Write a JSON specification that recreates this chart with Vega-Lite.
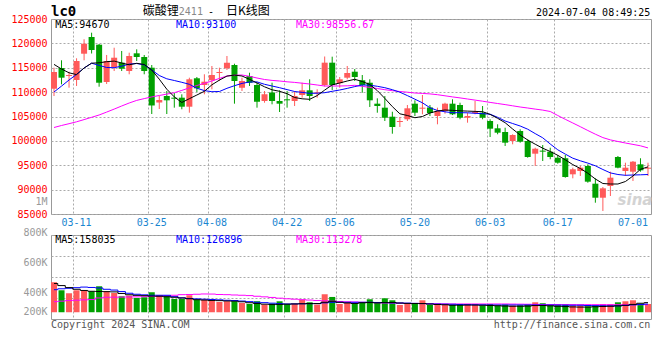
{
"$schema": "https://vega.github.io/schema/vega-lite/v6.json",
"background": "white",
"autosize": {"type": "pad"},
"padding": {"left": 10, "top": 4, "right": 0, "bottom": 0},
"bounds": "flush",
"spacing": 21,
"config": {
  "view": {"stroke": "#999", "strokeWidth": 1},
  "font": "DejaVu Sans Mono",
  "axis": {"labelFont": "DejaVu Sans Mono", "labelFontSize": 10, "ticks": false, "domain": false, "gridDash": [2, 2], "gridColor": "#aaa", "gridWidth": 1, "labelOverlap": false, "labelBound": false, "labelFlush": false},
  "text": {"font": "DejaVu Sans Mono", "fontSize": 10, "baseline": "middle"}
},
"datasets": {
"k": [
{"d":"03-06","o":110700,"c":114130,"h":115010,"l":109200,"v":605000,"m5":115687,"m10":110025,"m30":102743,"vm5":578000,"vm10":442000,"vm30":180000},
{"d":"03-07","o":114950,"c":112960,"h":116530,"l":111600,"v":429000,"m5":114743,"m10":111235,"m30":103154,"vm5":532000,"vm10":462000,"vm30":191000},
{"d":"03-08","o":113310,"c":113510,"h":114190,"l":110910,"v":364000,"m5":113964,"m10":112487,"m30":103523,"vm5":488000,"vm10":473000,"vm30":204000},
{"d":"03-11","o":112490,"c":116380,"h":116940,"l":111260,"v":429000,"m5":113594,"m10":113635,"m30":103913,"vm5":451000,"vm10":486000,"vm30":212000},
{"d":"03-12","o":117880,"c":119930,"h":120840,"l":116530,"v":423000,"m5":114948,"m10":114948,"m30":104364,"vm5":425000,"vm10":499000,"vm30":219000},
{"d":"03-13","o":121310,"c":118640,"h":122190,"l":117920,"v":407000,"m5":115933,"m10":115933,"m30":104836,"vm5":407000,"vm10":491000,"vm30":226000},
{"d":"03-14","o":119730,"c":111930,"h":119870,"l":111110,"v":517000,"m5":116015,"m10":115482,"m30":105308,"vm5":403000,"vm10":480000,"vm30":261000},
{"d":"03-15","o":112080,"c":116380,"h":117620,"l":111670,"v":407000,"m5":116241,"m10":115051,"m30":105903,"vm5":399000,"vm10":451000,"vm30":276000},
{"d":"03-18","o":115150,"c":117060,"h":119110,"l":114330,"v":370000,"m5":116364,"m10":115010,"m30":106518,"vm5":394000,"vm10":434000,"vm30":278000},
{"d":"03-19","o":116040,"c":114800,"h":118440,"l":114330,"v":298000,"m5":115974,"m10":115318,"m30":107154,"vm5":359000,"vm10":401000,"vm30":280000},
{"d":"03-20","o":114330,"c":117410,"h":118090,"l":113660,"v":313000,"m5":115605,"m10":115749,"m30":107769,"vm5":331000,"vm10":364000,"vm30":283000},
{"d":"03-21","o":117960,"c":117200,"h":118780,"l":116380,"v":261000,"m5":115913,"m10":115872,"m30":108302,"vm5":318000,"vm10":342000,"vm30":285000},
{"d":"03-22","o":117200,"c":114330,"h":117620,"l":113660,"v":276000,"m5":115667,"m10":115585,"m30":108672,"vm5":311000,"vm10":329000,"vm30":289000},
{"d":"03-25","o":115010,"c":107260,"h":115560,"l":105510,"v":386000,"m5":114538,"m10":114559,"m30":109020,"vm5":302000,"vm10":320000,"vm30":294000},
{"d":"03-26","o":107870,"c":108380,"h":109200,"l":106540,"v":320000,"m5":112651,"m10":113410,"m30":109308,"vm5":298000,"vm10":320000,"vm30":300000},
{"d":"03-27","o":109200,"c":108320,"h":110230,"l":105510,"v":313000,"m5":110600,"m10":112733,"m30":109595,"vm5":287000,"vm10":320000,"vm30":309000},
{"d":"03-28","o":108860,"c":108650,"h":109820,"l":106810,"v":239000,"m5":109020,"m10":112384,"m30":109882,"vm5":276000,"vm10":289000,"vm30":320000},
{"d":"03-29","o":108860,"c":107010,"h":109550,"l":106480,"v":239000,"m5":107872,"m10":112015,"m30":110354,"vm5":261000,"vm10":263000,"vm30":333000},
{"d":"04-01","o":107010,"c":112630,"h":112960,"l":105780,"v":320000,"m5":108651,"m10":111605,"m30":110867,"vm5":243000,"vm10":250000,"vm30":337000},
{"d":"04-02","o":112840,"c":110780,"h":113100,"l":110030,"v":226000,"m5":109410,"m10":110805,"m30":111359,"vm5":223000,"vm10":241000,"vm30":342000},
{"d":"04-03","o":111460,"c":112140,"h":113660,"l":109550,"v":226000,"m5":110169,"m10":110313,"m30":111810,"vm5":215000,"vm10":234000,"vm30":348000},
{"d":"04-08","o":112430,"c":113510,"h":115360,"l":110580,"v":204000,"m5":111502,"m10":110087,"m30":112282,"vm5":206000,"vm10":228000,"vm30":346000},
{"d":"04-09","o":113920,"c":114130,"h":115010,"l":112280,"v":173000,"m5":112466,"m10":110128,"m30":112815,"vm5":202000,"vm10":219000,"vm30":337000},
{"d":"04-10","o":114890,"c":116040,"h":117410,"l":114540,"v":188000,"m5":113287,"m10":110784,"m30":113307,"vm5":195000,"vm10":210000,"vm30":333000},
{"d":"04-11","o":115560,"c":112280,"h":115830,"l":107630,"v":188000,"m5":113492,"m10":111317,"m30":113471,"vm5":191000,"vm10":204000,"vm30":326000},
{"d":"04-12","o":110910,"c":112280,"h":112960,"l":110230,"v":151000,"m5":113307,"m10":111789,"m30":113512,"vm5":177000,"vm10":193000,"vm30":320000},
{"d":"04-15","o":113310,"c":111930,"h":113980,"l":111260,"v":129000,"m5":112630,"m10":112077,"m30":113246,"vm5":156000,"vm10":180000,"vm30":313000},
{"d":"04-16","o":111460,"c":108040,"h":111930,"l":106810,"v":188000,"m5":111872,"m10":112097,"m30":112897,"vm5":140000,"vm10":166000,"vm30":298000},
{"d":"04-17","o":108180,"c":109550,"h":110230,"l":107830,"v":116000,"m5":111092,"m10":111605,"m30":112590,"vm5":125000,"vm10":158000,"vm30":285000},
{"d":"04-18","o":109920,"c":108180,"h":111930,"l":107500,"v":138000,"m5":110477,"m10":111256,"m30":112405,"vm5":116000,"vm10":147000,"vm30":272000},
{"d":"04-19","o":108180,"c":107630,"h":110370,"l":105920,"v":188000,"m5":110169,"m10":110908,"m30":112282,"vm5":120000,"vm10":136000,"vm30":256000},
{"d":"04-22","o":108530,"c":108320,"h":110230,"l":106810,"v":129000,"m5":109677,"m10":110518,"m30":112118,"vm5":125000,"vm10":129000,"vm30":243000},
{"d":"04-23","o":108180,"c":109200,"h":110230,"l":107150,"v":138000,"m5":108897,"m10":110128,"m30":111995,"vm5":129000,"vm10":131000,"vm30":234000},
{"d":"04-24","o":109410,"c":110370,"h":111930,"l":108860,"v":226000,"m5":108631,"m10":109943,"m30":111831,"vm5":134000,"vm10":134000,"vm30":223000},
{"d":"04-25","o":110370,"c":109200,"h":112630,"l":108180,"v":166000,"m5":108528,"m10":109759,"m30":111666,"vm5":138000,"vm10":136000,"vm30":215000},
{"d":"04-26","o":109750,"c":109960,"h":110580,"l":108860,"v":116000,"m5":109287,"m10":109779,"m30":111461,"vm5":138000,"vm10":138000,"vm30":206000},
{"d":"04-29","o":111460,"c":116040,"h":117310,"l":111150,"v":342000,"m5":110415,"m10":109882,"m30":111256,"vm5":166000,"vm10":153000,"vm30":197000},
{"d":"04-30","o":116040,"c":111460,"h":117270,"l":110440,"v":283000,"m5":111502,"m10":110169,"m30":111256,"vm5":188000,"vm10":166000,"vm30":191000},
{"d":"05-06","o":111830,"c":112630,"h":113100,"l":110910,"v":129000,"m5":111872,"m10":110436,"m30":111256,"vm5":166000,"vm10":166000,"vm30":184000},
{"d":"05-07","o":112960,"c":113920,"h":115360,"l":112630,"v":166000,"m5":112282,"m10":110764,"m30":111297,"vm5":151000,"vm10":166000,"vm30":177000},
{"d":"05-08","o":114190,"c":113100,"h":114740,"l":112280,"v":129000,"m5":112630,"m10":111133,"m30":111400,"vm5":140000,"vm10":166000,"vm30":173000},
{"d":"05-09","o":112430,"c":111460,"h":113510,"l":109880,"v":151000,"m5":112179,"m10":111461,"m30":111195,"vm5":156000,"vm10":166000,"vm30":166000},
{"d":"05-10","o":111930,"c":108320,"h":112630,"l":106950,"v":232000,"m5":111564,"m10":111420,"m30":110969,"vm5":160000,"vm10":166000,"vm30":162000},
{"d":"05-13","o":107630,"c":107150,"h":108730,"l":105780,"v":151000,"m5":110313,"m10":111195,"m30":110743,"vm5":153000,"vm10":162000,"vm30":156000},
{"d":"05-14","o":106810,"c":104750,"h":109200,"l":104080,"v":254000,"m5":108712,"m10":110908,"m30":110497,"vm5":160000,"vm10":158000,"vm30":151000},
{"d":"05-15","o":104960,"c":102850,"h":105980,"l":101470,"v":210000,"m5":107030,"m10":110497,"m30":110292,"vm5":162000,"vm10":153000,"vm30":149000},
{"d":"05-16","o":103870,"c":104080,"h":104900,"l":102850,"v":107000,"m5":105553,"m10":109984,"m30":110128,"vm5":149000,"vm10":151000,"vm30":145000},
{"d":"05-17","o":104430,"c":106680,"h":107360,"l":104080,"v":151000,"m5":105204,"m10":109287,"m30":109984,"vm5":142000,"vm10":147000,"vm30":142000},
{"d":"05-20","o":107630,"c":105780,"h":108320,"l":105100,"v":138000,"m5":104753,"m10":108548,"m30":109820,"vm5":140000,"vm10":142000,"vm30":140000},
{"d":"05-21","o":106600,"c":106810,"h":109410,"l":105450,"v":210000,"m5":104999,"m10":107810,"m30":109738,"vm5":138000,"vm10":138000,"vm30":138000},
{"d":"05-22","o":106850,"c":105720,"h":107360,"l":105100,"v":107000,"m5":105717,"m10":106805,"m30":109636,"vm5":127000,"vm10":131000,"vm30":136000},
{"d":"05-23","o":105100,"c":106130,"h":106810,"l":103400,"v":107000,"m5":106128,"m10":106230,"m30":109472,"vm5":118000,"vm10":127000,"vm30":134000},
{"d":"05-24","o":106130,"c":107630,"h":107830,"l":105570,"v":116000,"m5":106333,"m10":105963,"m30":109246,"vm5":112000,"vm10":125000,"vm30":131000},
{"d":"05-27","o":107630,"c":105450,"h":108530,"l":105300,"v":107000,"m5":106251,"m10":105779,"m30":109020,"vm5":101000,"vm10":123000,"vm30":129000},
{"d":"05-28","o":107360,"c":104750,"h":107830,"l":104430,"v":116000,"m5":106169,"m10":105779,"m30":108815,"vm5":101000,"vm10":118000,"vm30":129000},
{"d":"05-29","o":104750,"c":105100,"h":105780,"l":103730,"v":116000,"m5":106107,"m10":105759,"m30":108589,"vm5":105000,"vm10":114000,"vm30":129000},
{"d":"05-30","o":105720,"c":105930,"h":108180,"l":105450,"v":116000,"m5":106046,"m10":105656,"m30":108364,"vm5":105000,"vm10":112000,"vm30":129000},
{"d":"05-31","o":105780,"c":104750,"h":107150,"l":104430,"v":94000,"m5":105984,"m10":105574,"m30":108138,"vm5":101000,"vm10":110000,"vm30":129000},
{"d":"06-03","o":104080,"c":102500,"h":104430,"l":100790,"v":129000,"m5":105430,"m10":105472,"m30":107892,"vm5":96000,"vm10":107000,"vm30":129000},
{"d":"06-04","o":102580,"c":101680,"h":103400,"l":101350,"v":94000,"m5":104630,"m10":104836,"m30":107666,"vm5":90000,"vm10":107000,"vm30":129000},
{"d":"06-05","o":101820,"c":99630,"h":102700,"l":98950,"v":116000,"m5":103727,"m10":104077,"m30":107441,"vm5":83000,"vm10":107000,"vm30":129000},
{"d":"06-06","o":99970,"c":101200,"h":101350,"l":99300,"v":94000,"m5":102435,"m10":103564,"m30":107195,"vm5":79000,"vm10":107000,"vm30":127000},
{"d":"06-07","o":102030,"c":99830,"h":102370,"l":99630,"v":101000,"m5":101204,"m10":103051,"m30":106948,"vm5":79000,"vm10":107000,"vm30":125000},
{"d":"06-11","o":99970,"c":96690,"h":100320,"l":96550,"v":116000,"m5":100178,"m10":102395,"m30":106743,"vm5":83000,"vm10":107000,"vm30":123000},
{"d":"06-12","o":97370,"c":98390,"h":98600,"l":94850,"v":166000,"m5":99317,"m10":101492,"m30":106518,"vm5":94000,"vm10":107000,"vm30":120000},
{"d":"06-13","o":98000,"c":97790,"h":99150,"l":95870,"v":145000,"m5":98496,"m10":100631,"m30":106313,"vm5":96000,"vm10":107000,"vm30":118000},
{"d":"06-14","o":97780,"c":96690,"h":98600,"l":96220,"v":101000,"m5":97819,"m10":99359,"m30":106026,"vm5":88000,"vm10":107000,"vm30":116000},
{"d":"06-17","o":96550,"c":95520,"h":97100,"l":95320,"v":101000,"m5":97040,"m10":98169,"m30":105205,"vm5":79000,"vm10":105000,"vm30":116000},
{"d":"06-18","o":96430,"c":92590,"h":97100,"l":92450,"v":116000,"m5":96116,"m10":97287,"m30":104426,"vm5":72000,"vm10":103000,"vm30":115000},
{"d":"06-19","o":93140,"c":94170,"h":94500,"l":92320,"v":94000,"m5":95132,"m10":96446,"m30":103667,"vm5":64000,"vm10":101000,"vm30":115000},
{"d":"06-20","o":93820,"c":94500,"h":94850,"l":92800,"v":94000,"m5":94332,"m10":95913,"m30":102908,"vm5":61000,"vm10":101000,"vm30":114000},
{"d":"06-21","o":94850,"c":91630,"h":95190,"l":91420,"v":79000,"m5":93368,"m10":95441,"m30":102128,"vm5":61000,"vm10":96000,"vm30":114000},
{"d":"06-24","o":91220,"c":88340,"h":92320,"l":87320,"v":94000,"m5":92178,"m10":94887,"m30":101369,"vm5":68000,"vm10":92000,"vm30":114000},
{"d":"06-25","o":88340,"c":90270,"h":90540,"l":85620,"v":123000,"m5":91255,"m10":94128,"m30":100671,"vm5":74000,"vm10":90000,"vm30":114000},
{"d":"06-26","o":90740,"c":92450,"h":93680,"l":88690,"v":123000,"m5":91153,"m10":93430,"m30":100200,"vm5":79000,"vm10":88000,"vm30":113000},
{"d":"06-27","o":96690,"c":94500,"h":96900,"l":94370,"v":166000,"m5":91153,"m10":93102,"m30":99872,"vm5":88000,"vm10":88000,"vm30":113000},
{"d":"06-28","o":93820,"c":94500,"h":95520,"l":92800,"v":188000,"m5":91666,"m10":92938,"m30":99564,"vm5":101000,"vm10":96000,"vm30":113000},
{"d":"07-01","o":93680,"c":95730,"h":95870,"l":91770,"v":210000,"m5":92794,"m10":93000,"m30":99277,"vm5":120000,"vm10":110000,"vm30":113000},
{"d":"07-02","o":95190,"c":93960,"h":96430,"l":93680,"v":134000,"m5":94168,"m10":93041,"m30":98990,"vm5":145000,"vm10":118000,"vm30":113000},
{"d":"07-03","o":94290,"c":94500,"h":95520,"l":92800,"v":129000,"m5":94670,"m10":93100,"m30":98556.67,"vm5":158035,"vm10":126896,"vm30":113278}
]
},
"vconcat": [
{
  "width": 600,
  "height": 195,
  "data": {"name": "k"},
  "encoding": {
    "x": {"field": "d", "type": "ordinal", "sort": null,
      "scale": {"paddingInner": 0.2, "paddingOuter": 0},
      "axis": {"values": ["03-11","03-25","04-08","04-22","05-06","05-20","06-03","06-17","07-01"], "bandPosition": 0, "labelColor": "#1a86d0", "grid": true,
        "gridOpacity": {"condition": {"test": "datum.value == '07-01'", "value": 0}, "value": 1},
        "labelPadding": 3, "labelAngle": 0, "title": null}}
  },
  "layer": [
    {"mark": {"type": "rule", "strokeWidth": 1},
     "encoding": {
       "y": {"field": "l", "type": "quantitative", "scale": {"domain": [85000, 125000], "nice": false, "zero": false},
         "axis": {"values": [85000, 87500, 90000, 95000, 100000, 105000, 110000, 115000, 120000, 125000], "tickCount": 40, "format": "d",
           "labelExpr": "datum.value == 87500 ? '1M' : datum.label",
           "labelColor": {"condition": {"test": "datum.value == 87500", "value": "#999"}, "value": "#ff0000"},
           "gridOpacity": {"condition": {"test": "datum.value == 87500", "value": 0}, "value": 1},
           "grid": true, "labelPadding": 4, "title": null}},
       "y2": {"field": "h"},
       "color": {"condition": {"test": "datum.c >= datum.o", "value": "#ff5a5a"}, "value": "#00a000"}}},
    {"mark": {"type": "bar"},
     "encoding": {
       "y": {"field": "o", "type": "quantitative"},
       "y2": {"field": "c"},
       "color": {"condition": {"test": "datum.c >= datum.o", "value": "#ff5a5a"}, "value": "#00a000"}}},
    {"mark": {"type": "line", "strokeWidth": 1, "color": "#ff00ff"}, "encoding": {"y": {"field": "m30", "type": "quantitative"}}},
    {"mark": {"type": "line", "strokeWidth": 1, "color": "#0000ff"}, "encoding": {"y": {"field": "m10", "type": "quantitative"}}},
    {"mark": {"type": "line", "strokeWidth": 1, "color": "#000000"}, "encoding": {"y": {"field": "m5", "type": "quantitative"}}},
    {"data": {"values": [{"t": "sina"}]}, "mark": {"type": "text", "align": "center", "fontSize": 15, "font": "DejaVu Sans", "fontWeight": "bold", "fontStyle": "italic", "color": "#cfcfcf", "opacity": 0.9},
     "encoding": {"x": {"datum": "07-01", "type": "ordinal", "bandPosition": 0.85}, "y": {"datum": 87800, "type": "quantitative"}, "text": {"field": "t"}}},
    {"data": {"values": [{"t": "MA5:94670"}]}, "mark": {"type": "text", "align": "left", "color": "#000000"},
     "encoding": {"x": {"datum": "03-06", "type": "ordinal", "bandPosition": 0.71}, "y": {"datum": 123870, "type": "quantitative"}, "text": {"field": "t"}}},
    {"data": {"values": [{"t": "MA10:93100"}]}, "mark": {"type": "text", "align": "left", "color": "#0000ff"},
     "encoding": {"x": {"datum": "03-28", "type": "ordinal", "bandPosition": 0.78}, "y": {"datum": 123870, "type": "quantitative"}, "text": {"field": "t"}}},
    {"data": {"values": [{"t": "MA30:98556.67"}]}, "mark": {"type": "text", "align": "left", "color": "#ff00ff"},
     "encoding": {"x": {"datum": "04-23", "type": "ordinal", "bandPosition": 0.73}, "y": {"datum": 123870, "type": "quantitative"}, "text": {"field": "t"}}},
    {"data": {"values": [{"t": "lc0"}]}, "mark": {"type": "text", "align": "left", "fontSize": 14, "fontWeight": "bold", "color": "#000000"},
     "encoding": {"x": {"datum": "03-06", "type": "ordinal", "bandPosition": 0}, "y": {"datum": 126374, "type": "quantitative"}, "text": {"field": "t"}}},
    {"data": {"values": [{"t": "碳酸锂"}]}, "mark": {"type": "text", "align": "left", "fontSize": 12, "font": "Noto Sans CJK SC", "color": "#000000"},
     "encoding": {"x": {"datum": "03-22", "type": "ordinal", "bandPosition": 0.25}, "y": {"datum": 126641, "type": "quantitative"}, "text": {"field": "t"}}},
    {"data": {"values": [{"t": "2411"}]}, "mark": {"type": "text", "align": "left", "fontSize": 10, "color": "#888888"},
     "encoding": {"x": {"datum": "03-29", "type": "ordinal", "bandPosition": 0}, "y": {"datum": 126497, "type": "quantitative"}, "text": {"field": "t"}}},
    {"data": {"values": [{"t": "-"}]}, "mark": {"type": "text", "align": "center", "fontSize": 10, "color": "#000000"},
     "encoding": {"x": {"datum": "04-08", "type": "ordinal", "bandPosition": 0.35}, "y": {"datum": 126497, "type": "quantitative"}, "text": {"field": "t"}}},
    {"data": {"values": [{"t": "日K线图"}]}, "mark": {"type": "text", "align": "left", "fontSize": 12, "font": "Noto Sans CJK SC", "color": "#000000"},
     "encoding": {"x": {"datum": "04-10", "type": "ordinal", "bandPosition": 0.35}, "y": {"datum": 126641, "type": "quantitative"}, "text": {"field": "t"}}},
    {"data": {"values": [{"t": "2024-07-04 08:49:25"}]}, "mark": {"type": "text", "align": "right", "fontSize": 10, "color": "#000000"},
     "encoding": {"x": {"datum": "07-03", "type": "ordinal", "bandPosition": 0.88}, "y": {"datum": 126292, "type": "quantitative"}, "text": {"field": "t"}}}
  ]
},
{
  "width": 600,
  "height": 84,
  "data": {"name": "k"},
  "encoding": {
    "x": {"field": "d", "type": "ordinal", "sort": null,
      "scale": {"paddingInner": 0.2, "paddingOuter": 0},
      "axis": {"values": ["03-11","03-25","04-08","04-22","05-06","05-20","06-03","06-17"], "bandPosition": 0, "labels": false, "grid": true, "title": null}}
  },
  "layer": [
    {"mark": {"type": "bar"},
     "encoding": {
       "y": {"field": "v", "type": "quantitative", "scale": {"domain": [-200000, 1640000], "nice": false, "zero": false},
         "axis": {"values": [260000, 720000, 1180000, 1640000], "tickCount": 40,
           "labelExpr": "datum.value == 260000 ? '200K' : datum.value == 720000 ? '400K' : datum.value == 1180000 ? '600K' : '800K'",
           "labelOffset": {"condition": [{"test": "datum.value == 260000", "value": 13}, {"test": "datum.value == 720000", "value": 15}, {"test": "datum.value == 1180000", "value": 6}], "value": -3},
           "labelColor": "#999999", "grid": true, "labelPadding": 4, "title": null}},
       "y2": {"datum": -52000},
       "color": {"condition": {"test": "datum.c >= datum.o", "value": "#ff5a5a"}, "value": "#00a000"}}},
    {"mark": {"type": "line", "strokeWidth": 1, "color": "#ff00ff", "interpolate": "step"}, "encoding": {"y": {"field": "vm30", "type": "quantitative"}}},
    {"mark": {"type": "line", "strokeWidth": 1, "color": "#0000ff", "interpolate": "step"}, "encoding": {"y": {"field": "vm10", "type": "quantitative"}}},
    {"mark": {"type": "line", "strokeWidth": 1, "color": "#000000", "interpolate": "step"}, "encoding": {"y": {"field": "vm5", "type": "quantitative"}}},
    {"data": {"values": [{"t": "MA5:158035"}]}, "mark": {"type": "text", "align": "left", "color": "#000000"},
     "encoding": {"x": {"datum": "03-06", "type": "ordinal", "bandPosition": 0.71}, "y": {"datum": 1535000, "type": "quantitative"}, "text": {"field": "t"}}},
    {"data": {"values": [{"t": "MA10:126896"}]}, "mark": {"type": "text", "align": "left", "color": "#0000ff"},
     "encoding": {"x": {"datum": "03-28", "type": "ordinal", "bandPosition": 0.78}, "y": {"datum": 1535000, "type": "quantitative"}, "text": {"field": "t"}}},
    {"data": {"values": [{"t": "MA30:113278"}]}, "mark": {"type": "text", "align": "left", "color": "#ff00ff"},
     "encoding": {"x": {"datum": "04-23", "type": "ordinal", "bandPosition": 0.73}, "y": {"datum": 1535000, "type": "quantitative"}, "text": {"field": "t"}}},
    {"data": {"values": [{"t": "Copyright 2024 SINA.COM"}]}, "mark": {"type": "text", "align": "left", "color": "#555555"},
     "encoding": {"x": {"datum": "03-06", "type": "ordinal", "bandPosition": 0}, "y": {"datum": -320500, "type": "quantitative"}, "text": {"field": "t"}}},
    {"data": {"values": [{"t": "http://finance.sina.com.cn"}]}, "mark": {"type": "text", "align": "right", "color": "#555555"},
     "encoding": {"x": {"datum": "07-03", "type": "ordinal", "bandPosition": 0.88}, "y": {"datum": -320500, "type": "quantitative"}, "text": {"field": "t"}}}
  ]
}
]
}
